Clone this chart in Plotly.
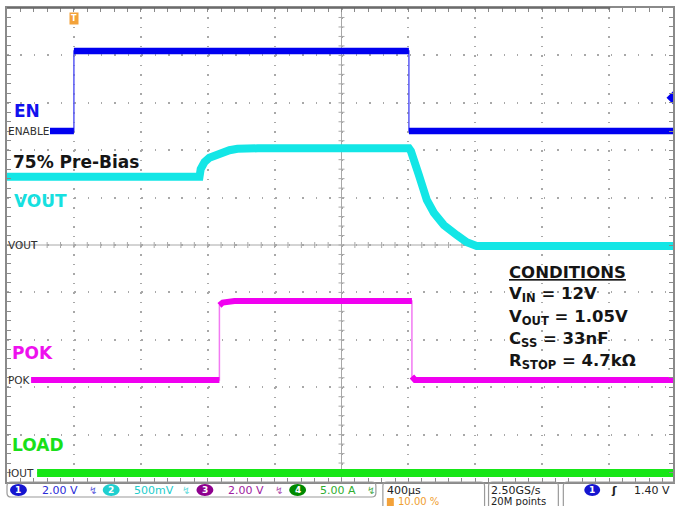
import plotly.graph_objects as go

# ---------------- data ----------------
# time in microseconds, trigger (t = 0) at 10 % of the record
EN_T = [-143, 0, 0, 2003, 2003, 3582]
EN_V = [0.0, 0.0, 3.38, 3.38, 0.0, 0.0]

VOUT_T = [-400, 751, 758, 781, 810, 852, 890, 930, 978, 1100,
          2003, 2015, 2062, 2110, 2152, 2212, 2289, 2349, 2408, 3582]
VOUT_V = [0.72, 0.72, 0.80, 0.875, 0.92, 0.95, 0.98, 1.00, 1.015, 1.02,
          1.02, 0.99, 0.74, 0.475, 0.34, 0.21, 0.105, 0.03, -0.01, -0.01]

POK_T = [-256, 870, 870, 890, 960, 2021, 2021, 2040, 3582]
POK_V = [0.0, 0.0, 3.15, 3.27, 3.33, 3.33, 0.15, 0.0, 0.0]

IOUT_T = [-220, 3582]
IOUT_A = [0.0, 0.0]

TRIG_LEVEL = 1.40                      # V on channel 1
CH_SCALE = [2.0, 0.5, 2.0, 5.0]        # units / division
CH_SCALE_TEXT = ["2.00 V", "500mV", "2.00 V", "5.00 A"]
CH_NAMES = ["EN", "VOUT", "POK", "LOAD"]
CH_GND_TEXT = ["ENABLE", "VOUT", "POK", "IOUT"]
TIMEBASE_TEXT = "400µs"
TRIG_POS_TEXT = "10.00 %"
SAMPLE_TEXT = ["2.50GS/s", "20M points"]
TRIG_TEXT = "1.40 V"
CONDITIONS = ["CONDITIONS", "V<sub>IN</sub> = 12V", "V<sub>OUT</sub> = 1.05V",
              "C<sub>SS</sub> = 33nF", "R<sub>STOP</sub> = 4.7kΩ"]

# ---------------- display settings ----------------
T_DIV = 400.0
X_DIVS = 9.955
T0 = -400.0
T1 = T0 + X_DIVS * T_DIV
T_CENTER = T0 + 5 * T_DIV
GND_DIV = [2.405, 0.0, -2.848, -4.81]   # ground marker position (div from centre)

TRACE_COL = ["#0000f0", "#13e6e6", "#f000f0", "#16e616"]
EDGE_COL = ["#5a5af5", "#13e6e6", "#f27af2", "#16e616"]
LABEL_COL = ["#1111ee", "#16e0e0", "#ee11ee", "#19e019"]
BAR_COL = ["#2a2ad8", "#22cccc", "#a020a0", "#2fae2f"]
DOT_COL = ["#1515d0", "#1fcfcf", "#8e008e", "#008a00"]

W, H = 675, 506
L, T, R, B = 7, 8, 0, 24
PW, PH = W - L - R, H - T - B


def px(x):
    return (x - L) / PW


def py(y):
    return 1 - (y - T) / PH


def split_edges(t, v):
    ot, ov = [], []
    for i in range(len(t)):
        if i > 0 and t[i] == t[i - 1]:
            ot.append(None)
            ov.append(None)
        ot.append(t[i])
        ov.append(v[i])
    return ot, ov


def ch_range(i):
    s, g = CH_SCALE[i], GND_DIV[i]
    return [(-5 - g) * s, (5 - g) * s]


fig = go.Figure()

chans = [(IOUT_T, IOUT_A, 3, 8), (POK_T, POK_V, 2, 6), (VOUT_T, VOUT_V, 1, 8), (EN_T, EN_V, 0, 6.5)]
for t, v, i, w in chans:
    yax = "y%d" % (i + 2)
    fig.add_trace(go.Scatter(x=t, y=v, xaxis="x", yaxis=yax, mode="lines",
                             line=dict(color=EDGE_COL[i], width=1.5), hoverinfo="skip",
                             showlegend=False))
    st, sv = split_edges(t, v)
    fig.add_trace(go.Scatter(x=st, y=sv, xaxis="x", yaxis=yax, mode="lines",
                             line=dict(color=TRACE_COL[i], width=w), hoverinfo="skip",
                             showlegend=False, connectgaps=False))

# trigger level marker (right edge)
fig.add_trace(go.Scatter(x=[T1], y=[TRIG_LEVEL], xaxis="x", yaxis="y2", mode="markers",
                         marker=dict(symbol="diamond", size=10, color=TRACE_COL[0]),
                         cliponaxis=False, showlegend=False, hoverinfo="skip"))

GRID_COL = "#a8a8a8"
BORDER_COL = "#8a8a8a"

layout = dict(
    width=W, height=H, margin=dict(l=L, r=R, t=T, b=B),
    paper_bgcolor="white", plot_bgcolor="white", showlegend=False,
    xaxis=dict(range=[T0, T1], showline=True, linecolor=BORDER_COL, linewidth=1.5,
               mirror="ticks", ticks="inside", ticklen=4, tickcolor=BORDER_COL,
               tick0=T0, dtick=T_DIV, showticklabels=False, zeroline=False,
               showgrid=True, gridcolor=GRID_COL, gridwidth=1.5,
               griddash="1.5px,7.98px",
               minor=dict(dtick=T_DIV / 5, tick0=T0, ticks="inside", ticklen=4,
                          tickcolor=BORDER_COL, showgrid=False)),
    yaxis=dict(range=[-5, 5], showline=True, linecolor=BORDER_COL, linewidth=1.5,
               mirror="ticks", ticks="inside", ticklen=4, tickcolor=BORDER_COL,
               tick0=-5, dtick=1, showticklabels=False, zeroline=False,
               showgrid=True, gridcolor=GRID_COL, gridwidth=1.5,
               griddash="1.5px,11.92px",
               minor=dict(dtick=0.2, tick0=-5, ticks="inside", ticklen=4,
                          tickcolor=BORDER_COL, showgrid=False)),
)
for i in range(4):
    layout["yaxis%d" % (i + 2)] = dict(range=ch_range(i), overlaying="y", visible=False,
                                       fixedrange=True)
fig.update_layout(**layout)

shapes = []
# centre cross-hair with small ticks
shapes.append(dict(type="line", xref="x", yref="paper", x0=T_CENTER, x1=T_CENTER, y0=0, y1=1,
                   line=dict(color=GRID_COL, width=1), layer="below"))
shapes.append(dict(type="line", xref="paper", yref="y", x0=0, x1=1, y0=0, y1=0,
                   line=dict(color=GRID_COL, width=1), layer="below"))
for k in range(1, 50):
    shapes.append(dict(type="line", xref="x", yref="y", xsizemode="pixel", xanchor=T_CENTER,
                       x0=-3, x1=3, y0=-5 + 0.2 * k, y1=-5 + 0.2 * k,
                       line=dict(color=GRID_COL, width=1), layer="below"))
for k in range(1, 50):
    tk = T0 + k * T_DIV / 5
    shapes.append(dict(type="line", xref="x", yref="y", ysizemode="pixel", yanchor=0,
                       y0=-3, y1=3, x0=tk, x1=tk,
                       line=dict(color=GRID_COL, width=1), layer="below"))
# darker top border segment (record indicator)
shapes.append(dict(type="line", xref="paper", yref="paper", x0=0, x1=px(612), y0=1, y1=1,
                   line=dict(color="#606060", width=1.5)))

ann = []
BIG = dict(family="DejaVu Sans", size=17, weight="bold")
big_pos = [(12, 111), (12, 201), (10, 353), (10, 445)]
for i, (x, y) in enumerate(big_pos):
    ann.append(dict(x=px(x), y=py(y), xref="paper", yref="paper", xanchor="left",
                    yanchor="middle", text=CH_NAMES[i], showarrow=False,
                    font=dict(BIG, color=LABEL_COL[i])))
ann.append(dict(x=px(11), y=py(162), xref="paper", yref="paper", xanchor="left",
                yanchor="middle", text="75% Pre-Bias", showarrow=False,
                font=dict(BIG, color="#151515")))
for i in range(4):
    ann.append(dict(x=T0, y=0, xref="x", yref="y%d" % (i + 2), xanchor="left",
                    yanchor="middle", text=CH_GND_TEXT[i], showarrow=False, xshift=-1,
                    font=dict(family="DejaVu Sans", size=10.5, color="#303030")))
cond_y = [272, 294, 317, 339, 361]
for j, txt in enumerate(CONDITIONS):
    f = dict(family="DejaVu Sans", size=16.5, weight="bold", color="#151515")
    if j == 0:
        f["lineposition"] = "under"
    ann.append(dict(x=px(508), y=py(cond_y[j]), xref="paper", yref="paper", xanchor="left",
                    yanchor="middle", text=txt, showarrow=False, font=f))
ann.append(dict(x=0, y=py(12), xref="x", yref="paper", xanchor="center", yanchor="top",
                text="<b>T</b>", showarrow=False, bgcolor="#f3a23a", borderpad=1,
                font=dict(family="DejaVu Sans", size=8, color="white")))


def rrect(x0, y0, x1, y1, r=4):
    ax0, ax1 = px(x0), px(x1)
    ay0, ay1 = py(y0), py(y1)
    rx, ry = r / PW, r / PH
    return ("M %f,%f L %f,%f Q %f,%f %f,%f L %f,%f Q %f,%f %f,%f L %f,%f Q %f,%f %f,%f "
            "L %f,%f Q %f,%f %f,%f Z" % (
                ax0 + rx, ay0, ax1 - rx, ay0, ax1, ay0, ax1, ay0 - ry,
                ax1, ay1 + ry, ax1, ay1, ax1 - rx, ay1,
                ax0 + rx, ay1, ax0, ay1, ax0, ay1 + ry,
                ax0, ay0 - ry, ax0, ay0, ax0 + rx, ay0))


for (x0, x1, y1) in [(7, 377, 497), (384, 486, 512), (490, 560, 512), (565, 680, 512)]:
    shapes.append(dict(type="path", path=rrect(x0, 482, x1, y1), xref="paper", yref="paper",
                       line=dict(color="#9a9a9a", width=1.2), fillcolor="rgba(0,0,0,0)"))

BAR_FONT = "DejaVu Sans"
dots = [(10, 27), (103, 120), (197, 214), (290, 307)]
vals_x = [40, 132, 227, 319]
bw_x = [93, 187, 280, 372]
for i in range(4):
    x0, x1 = dots[i]
    shapes.append(dict(type="circle", xref="paper", yref="paper", x0=px(x0), x1=px(x1),
                       y0=py(484), y1=py(496), fillcolor=DOT_COL[i], line=dict(width=0)))
    ann.append(dict(x=px((x0 + x1) / 2), y=py(490), xref="paper", yref="paper",
                    xanchor="center", yanchor="middle", text="<b>%d</b>" % (i + 1),
                    showarrow=False, font=dict(family=BAR_FONT, size=9, color="white")))
    ann.append(dict(x=px(vals_x[i]), y=py(490), xref="paper", yref="paper", xanchor="left",
                    yanchor="middle", text=CH_SCALE_TEXT[i], showarrow=False,
                    font=dict(family=BAR_FONT, size=11, color=BAR_COL[i])))
    ann.append(dict(x=px(bw_x[i]), y=py(490), xref="paper", yref="paper", xanchor="center",
                    yanchor="middle", text="↯", showarrow=False,
                    font=dict(family=BAR_FONT, size=10, color=DOT_COL[i]), opacity=0.7))

ann.append(dict(x=px(386), y=py(490), xref="paper", yref="paper", xanchor="left",
                yanchor="middle", text=TIMEBASE_TEXT, showarrow=False,
                font=dict(family=BAR_FONT, size=11, color="#222")))
shapes.append(dict(type="rect", xref="paper", yref="paper", x0=px(388), x1=px(395),
                   y0=py(498), y1=py(506), fillcolor="#f3a23a", line=dict(width=0)))
ann.append(dict(x=px(397), y=py(501), xref="paper", yref="paper", xanchor="left",
                yanchor="middle", text=TRIG_POS_TEXT, showarrow=False,
                font=dict(family=BAR_FONT, size=10, color="#f0a030")))
ann.append(dict(x=px(490), y=py(490), xref="paper", yref="paper", xanchor="left",
                yanchor="middle", text=SAMPLE_TEXT[0], showarrow=False,
                font=dict(family=BAR_FONT, size=11, color="#222")))
ann.append(dict(x=px(490), y=py(501), xref="paper", yref="paper", xanchor="left",
                yanchor="middle", text=SAMPLE_TEXT[1], showarrow=False,
                font=dict(family=BAR_FONT, size=10, color="#222")))
shapes.append(dict(type="circle", xref="paper", yref="paper", x0=px(586), x1=px(602),
                   y0=py(484), y1=py(496), fillcolor=DOT_COL[0], line=dict(width=0)))
ann.append(dict(x=px(594), y=py(490), xref="paper", yref="paper", xanchor="center",
                yanchor="middle", text="<b>1</b>", showarrow=False,
                font=dict(family=BAR_FONT, size=9, color="white")))
ann.append(dict(x=px(616), y=py(490), xref="paper", yref="paper", xanchor="center",
                yanchor="middle", text="<b>ʃ</b>", showarrow=False,
                font=dict(family=BAR_FONT, size=11, color="#222")))
ann.append(dict(x=px(674), y=py(490), xref="paper", yref="paper", xanchor="right",
                yanchor="middle", text=TRIG_TEXT, showarrow=False,
                font=dict(family=BAR_FONT, size=11, color="#222")))

fig.update_layout(annotations=ann, shapes=shapes)
fig.write_html("out.html", config={"displayModeBar": False},
               post_script="document.body.style.margin='0';document.body.style.overflow='hidden';")
